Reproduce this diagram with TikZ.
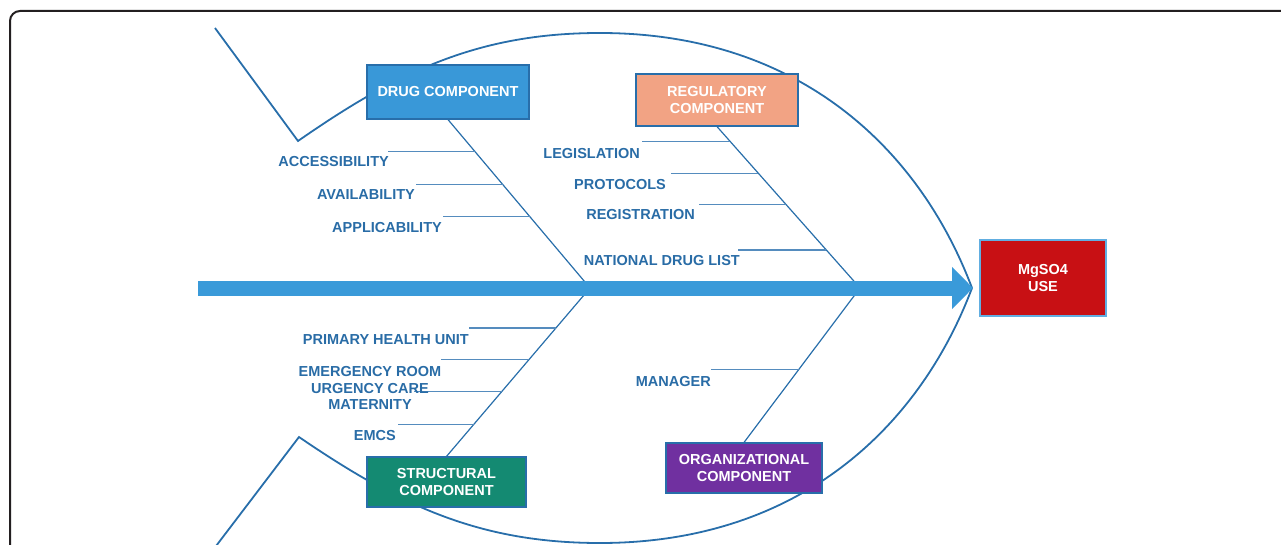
\documentclass[tikz,border=0pt]{standalone}
\usepackage{fontspec}
\setmainfont{Liberation Sans}
\usetikzlibrary{arrows.meta,calc,positioning}
\definecolor{lblBlue}{RGB}{41,108,166}
\definecolor{boneBlue}{RGB}{40,110,170}
\definecolor{ribBlue}{RGB}{85,140,190}
\definecolor{spineBlue}{RGB}{58,154,217}
\definecolor{drugFill}{RGB}{57,152,216}
\definecolor{regFill}{RGB}{242,163,132}
\definecolor{strFill}{RGB}{20,138,114}
\definecolor{orgFill}{RGB}{112,48,160}
\definecolor{useFill}{RGB}{200,16,20}
\definecolor{frameGray}{RGB}{35,31,32}
\tikzset{
    block/.style = {draw=boneBlue, line width=1.2pt, rectangle,
        text=white, align=center, inner sep=0pt,
        font=\bfseries\fontsize{14.5}{17}\selectfont},
    lbl/.style = {text=lblBlue, inner sep=0pt, align=center, yshift=-2pt,
        font=\bfseries\fontsize{14.5}{16.5}\selectfont},
    body/.style = {draw=boneBlue, line width=1.8pt},
    bone/.style = {draw=boneBlue, line width=1.2pt},
    rib/.style = {draw=ribBlue, line width=1.2pt},
    spine/.style = {draw=spineBlue, line width=15pt,
        -{Triangle[length=21pt,width=41pt]}},
}

\begin{document}
\begin{tikzpicture}[x=1pt, y=-1pt]
	\useasboundingbox (0,0) rectangle (1281,545);
	\clip (0,0) rectangle (1281,545);
	% frame
	\draw [frameGray, line width=2pt, rounded corners=10pt] (10,11) rectangle (1300,620);
	
	% fish body
	\coordinate (tailTop) at (215,28);
	\coordinate (tailUp) at (298,141);
	\coordinate (tailDown) at (299,437);
	\coordinate (tailBot) at (213,550);
	\coordinate (nose) at (972,288);
	\draw [body] (tailTop) -- (tailUp) .. controls (400,70) and (480,33) .. (600,33)
		.. controls (800,33) and (920,150) .. (nose);
	\draw [body] (tailBot) -- (tailDown) .. controls (400,506) and (480,543) .. (600,543)
		.. controls (800,543) and (920,426) .. (nose);
	
	% spine
	\coordinate (spineIn) at (198,288);
	\coordinate (spineOut) at (973,288);
	\coordinate (joint1) at (590,288);
	\coordinate (joint2) at (860,288);
	
	% components
	\node [block, fill=drugFill, minimum width=162pt, minimum height=54pt, name=drugBox] at (448,92) {DRUG COMPONENT};
	\node [block, fill=regFill, minimum width=162pt, minimum height=52pt, name=regBox] at (717,100) {REGULATORY\\COMPONENT};
	\node [block, fill=strFill, minimum width=159pt, minimum height=50pt, name=strBox] at (446.5,482) {STRUCTURAL\\COMPONENT};
	\node [block, fill=orgFill, minimum width=156pt, minimum height=50pt, name=orgBox] at (744,468) {ORGANIZATIONAL\\COMPONENT};
	\node [block, fill=useFill, draw=spineBlue!80, minimum width=126pt, minimum height=76pt, name=useBox] at (1043,278) {MgSO4\\USE};
	
	% bones
	\draw [bone] (drugBox.south) -- (joint1);
	\draw [bone] (regBox.south) -- (joint2);
	\draw [bone] (strBox.north) -- (joint1);
	\draw [bone] (orgBox.north) -- (joint2);
	
	% drug ribs
	\draw [rib] ($(drugBox.south)!0.189!(joint1)$) -- ++(-87,0) coordinate (acc);
	\draw [rib] ($(drugBox.south)!0.385!(joint1)$) -- ++(-87,0) coordinate (ava);
	\draw [rib] ($(drugBox.south)!0.574!(joint1)$) -- ++(-87,0) coordinate (app);
	\node [lbl, anchor=east, name=accLbl] at (389,160) {ACCESSIBILITY};
	\node [lbl, anchor=east, name=avaLbl] at (415,193) {AVAILABILITY};
	\node [lbl, anchor=east, name=appLbl] at (442,226) {APPLICABILITY};
	
	% regulatory ribs
	\draw [rib] ($(regBox.south)!0.093!(joint2)$) -- ++(-88,0) coordinate (leg);
	\draw [rib] ($(regBox.south)!0.290!(joint2)$) -- ++(-87,0) coordinate (pro);
	\draw [rib] ($(regBox.south)!0.481!(joint2)$) -- ++(-87,0) coordinate (reg);
	\draw [rib] ($(regBox.south)!0.765!(joint2)$) -- ++(-88,0) coordinate (ndl);
	\node [lbl, anchor=east, name=legLbl] at (640,152) {LEGISLATION};
	\node [lbl, anchor=east, name=proLbl] at (666,183) {PROTOCOLS};
	\node [lbl, anchor=east, name=regLbl] at (695,213) {REGISTRATION};
	\node [lbl, anchor=east, name=ndlLbl] at (740,259) {NATIONAL DRUG LIST};
	
	% structural ribs
	\draw [rib] ($(strBox.north)!0.763!(joint1)$) -- ++(-87,0) coordinate (phu);
	\draw [rib] ($(strBox.north)!0.574!(joint1)$) -- ++(-88,0) coordinate (erm);
	\draw [rib] ($(strBox.north)!0.385!(joint1)$) -- ++(-88,0) coordinate (urg);
	\draw [rib] ($(strBox.north)!0.189!(joint1)$) -- ++(-76,0) coordinate (emc);
	\node [lbl, anchor=east, name=phuLbl] at (469,338) {PRIMARY HEALTH UNIT};
	\node [lbl, name=ermLbl] at (370,386) {EMERGENCY ROOM\\URGENCY CARE\\MATERNITY};
	\node [lbl, anchor=east, name=emcLbl] at (396,434) {EMCS};
	
	% organizational rib
	\draw [rib] ($(orgBox.north)!0.471!(joint2)$) -- ++(-88,0) coordinate (man);
	\node [lbl, anchor=east, name=manLbl] at (711,380) {MANAGER};
	
	%spine arrow
	\draw [spine] (spineIn) -- (spineOut);
\end{tikzpicture}
\end{document}
